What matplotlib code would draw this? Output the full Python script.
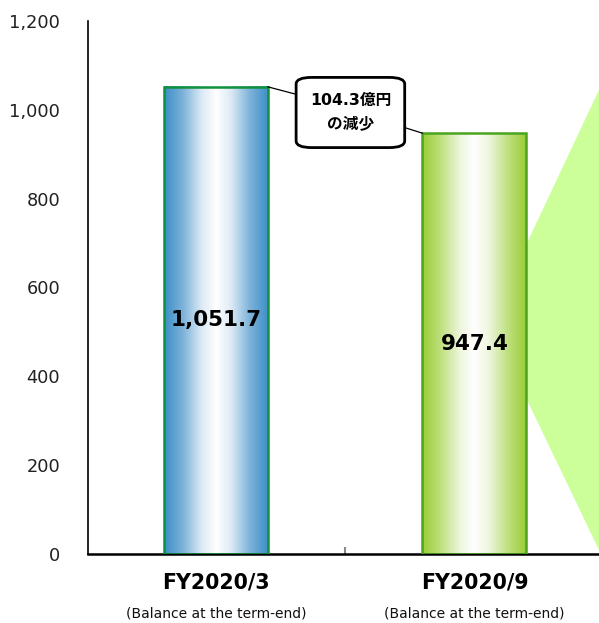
import numpy as np
import matplotlib
matplotlib.use('Agg')
import matplotlib.pyplot as plt
from matplotlib.colors import LinearSegmentedColormap
from matplotlib.patches import Polygon, FancyBboxPatch

plt.rcParams['font.family'] = ['DejaVu Sans', 'Noto Sans CJK JP']

# data
categories = ['FY2020/3', 'FY2020/9']
sublabels = ['(Balance at the term-end)', '(Balance at the term-end)']
values = [1051.7, 947.4]
value_labels = ['1,051.7', '947.4']
yticks = [0, 200, 400, 600, 800, 1000, 1200]
callout_text = '104.3億円\nの減少'

fig = plt.figure(figsize=(5.99, 6.23), dpi=100)
W, H = 599, 623
ax = fig.add_axes([88 / W, 1 - 554 / H, (W - 88) / W, (554 - 21) / H])

xs = np.arange(len(values))
bw = 104 / 258.5
ax.set_xlim(-0.495, 1.4816)
ax.set_ylim(0, 1200)

# gradient bars
grads = [
    LinearSegmentedColormap.from_list('b', [(0, '#3B8EC7'), (0.18, '#7DB2D9'), (0.36, '#DCEAF5'),
                                            (0.5, '#FFFFFF'), (0.64, '#DCEAF5'), (0.82, '#7DB2D9'),
                                            (1, '#3B8EC7')]),
    LinearSegmentedColormap.from_list('g', [(0, '#99CC33'), (0.18, '#BFE07F'), (0.36, '#EDF6DC'),
                                            (0.5, '#FFFFFF'), (0.64, '#EDF6DC'), (0.82, '#BFE07F'),
                                            (1, '#99CC33')]),
]
edges = ['#10913C', '#4AA51E']
grad = np.linspace(0, 1, 256).reshape(1, -1)
for x, v, cm, ec in zip(xs, values, grads, edges):
    ax.imshow(grad, cmap=cm, aspect='auto', extent=[x - bw / 2, x + bw / 2, 0, v],
              zorder=2, interpolation='bilinear')
    ax.bar(x, v, bw, facecolor='none', edgecolor=ec, linewidth=1.8, zorder=3)

for x, v, lab in zip(xs, values, value_labels):
    ax.text(x, v / 2, lab, ha='center', va='center', fontsize=15.5, fontweight='bold', zorder=4)

# arrow-like shape on the right
poly = Polygon([[1.203, 700], [1.4816, 1045], [1.4816, 9], [1.203, 347]],
               closed=True, facecolor='#CCFF99', edgecolor='none', zorder=1)
ax.add_patch(poly)

# callout
box_x0, box_x1 = 0.31, 0.73
box_y0, box_y1 = 915, 1073
ax.plot([xs[0] + bw / 2, box_x0], [values[0], 1035], color='black', lw=0.9, zorder=4)
ax.plot([box_x1, xs[1] - bw / 2], [960, values[1]], color='black', lw=0.9, zorder=4)
ax.add_patch(FancyBboxPatch((box_x0, box_y0), box_x1 - box_x0, box_y1 - box_y0,
                            boxstyle='round,pad=0,rounding_size=0.06', mutation_aspect=250,
                            facecolor='white', edgecolor='black', lw=2, zorder=5))
ax.text((box_x0 + box_x1) / 2, (box_y0 + box_y1) / 2, callout_text, ha='center', va='center',
        fontsize=11.3, fontweight='bold', linespacing=1.7, zorder=6,
        family=['DejaVu Sans', 'Noto Sans CJK JP'])

# axes styling
ax.spines['top'].set_visible(False)
ax.spines['right'].set_visible(False)
ax.spines['left'].set_linewidth(1.2)
ax.spines['bottom'].set_linewidth(1.8)
ax.set_yticks(yticks)
ax.set_yticklabels(['{:,}'.format(t) for t in yticks], fontsize=12.8, color='#222222')
ax.tick_params(axis='y', length=0, pad=20)
ax.set_xticks([0.5])
ax.set_xticklabels([''])
ax.tick_params(axis='x', direction='in', length=5, width=1.5, color='#888888')

for x, c, s in zip(xs, categories, sublabels):
    ax.text(x, -65, c, ha='center', va='center', fontsize=14.8, fontweight='bold')
    ax.text(x, -135, s, ha='center', va='center', fontsize=10, color='#111111')

fig.savefig('out.png', dpi=100)
